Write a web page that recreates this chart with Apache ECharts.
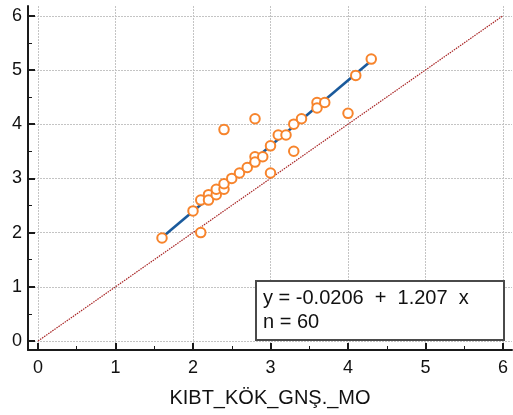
<!DOCTYPE html>
<html>
<head>
<meta charset="utf-8">
<script src="https://cdn.jsdelivr.net/npm/echarts@6/dist/echarts.min.js"></script>
<style>
  html, body { margin: 0; padding: 0; background: #fff; }
  #chart { width: 513px; height: 415px; }
</style>
</head>
<body>
<div id="chart"></div>
<script>
// observed points (x, y)
const xVals = [1.6, 2.1, 2.0, 2.1, 2.2, 2.2, 2.3, 2.3, 2.4, 2.4, 2.5, 2.6, 2.7, 2.8, 2.8, 2.9,
  3.0, 3.0, 3.1, 3.2, 3.3, 3.3, 3.4, 2.4, 2.8, 3.6, 3.6, 3.7, 4.0, 4.1, 4.3];
const yVals = [1.9, 2.0, 2.4, 2.6, 2.7, 2.6, 2.7, 2.8, 2.8, 2.9, 3.0, 3.1, 3.2, 3.4, 3.3, 3.4,
  3.6, 3.1, 3.8, 3.8, 3.5, 4.0, 4.1, 3.9, 4.1, 4.4, 4.3, 4.4, 4.2, 4.9, 5.2];

// fit y = a + b x, drawn over the data range
const fitA = -0.0206;
const fitB = 1.207;
const fitRange = [1.6, 4.3];

const majorTicks = [0, 1, 2, 3, 4, 5, 6];
const minorTicks = [0.5, 1.5, 2.5, 3.5, 4.5, 5.5];

const xName = "KIBT_KÖK_GNŞ._MO";
const eqText = "y = -0.0206  +  1.207  x";
const nText = "n = 60";

const font = "Liberation Sans";

const scatterData = xVals.map((x, i) => [x, yVals[i]]);
const fitData = fitRange.map((x) => [x, fitA + fitB * x]);
const diagData = [[0, 0], [6, 6]];

const chart = echarts.init(document.getElementById("chart"));

function mainAxis(extra) {
  return Object.assign({
    type: "value",
    min: -0.129,
    max: 6.116,
    axisLine: { show: true, onZero: false, lineStyle: { color: "#1a1a1a", width: 2 } },
    axisTick: { show: true, inside: true, length: 7, customValues: majorTicks,
      lineStyle: { color: "#1a1a1a", width: 2 } },
    minorTick: { show: false },
    axisLabel: { customValues: majorTicks, color: "#111", fontSize: 18, fontFamily: font },
    splitLine: { show: true, lineStyle: { color: "#c4c4c4", type: [2, 1], width: 1 } },
  }, extra);
}

function minorAxis(extra) {
  return Object.assign({
    type: "value",
    min: -0.129,
    max: 6.116,
    axisLine: { show: false, onZero: false },
    axisTick: { show: true, inside: true, length: 4, customValues: minorTicks,
      lineStyle: { color: "#1a1a1a", width: 1 } },
    axisLabel: { show: false },
    splitLine: { show: false },
  }, extra);
}

chart.setOption({
  animation: false,
  grid: { left: 28, right: 1, top: 6, bottom: 65 },
  xAxis: [
    mainAxis({
      position: "bottom",
      name: xName,
      nameLocation: "middle",
      nameGap: 38,
      nameTextStyle: { color: "#111", fontSize: 20, fontFamily: font },
      axisLabel: { customValues: majorTicks, color: "#111", fontSize: 18, fontFamily: font, margin: 9 },
    }),
    minorAxis({ position: "bottom" }),
  ],
  yAxis: [
    mainAxis({
      position: "left",
      min: -0.166,
      max: 6.18,
      axisLabel: { customValues: majorTicks, color: "#111", fontSize: 18, fontFamily: font, margin: 6 },
    }),
    minorAxis({ position: "left", min: -0.166, max: 6.18 }),
  ],
  series: [
    {
      type: "line",
      data: diagData,
      symbol: "none",
      lineStyle: { color: "#a82424", width: 1.2, type: [1.5, 1] },
    },
    {
      type: "line",
      data: fitData,
      symbol: "none",
      lineStyle: { color: "#1a5a9c", width: 2.6 },
      z: 3,
    },
    {
      type: "scatter",
      data: scatterData,
      symbol: "emptyCircle",
      symbolSize: 9.5,
      itemStyle: { color: "#f7842c", borderWidth: 1.2, opacity: 1 },
      z: 4,
    },
  ],
  graphic: [
    {
      type: "rect",
      left: 255,
      top: 280,
      shape: { width: 248, height: 59 },
      style: { fill: "#fff", stroke: "#4a4a4a", lineWidth: 2 },
      z: 10,
    },
    {
      type: "text",
      left: 263,
      top: 288,
      style: { text: eqText, font: "20px " + font, fill: "#111" },
      z: 11,
    },
    {
      type: "text",
      left: 263,
      top: 312,
      style: { text: nText, font: "20px " + font, fill: "#111" },
      z: 11,
    },
  ],
});
</script>
</body>
</html>
